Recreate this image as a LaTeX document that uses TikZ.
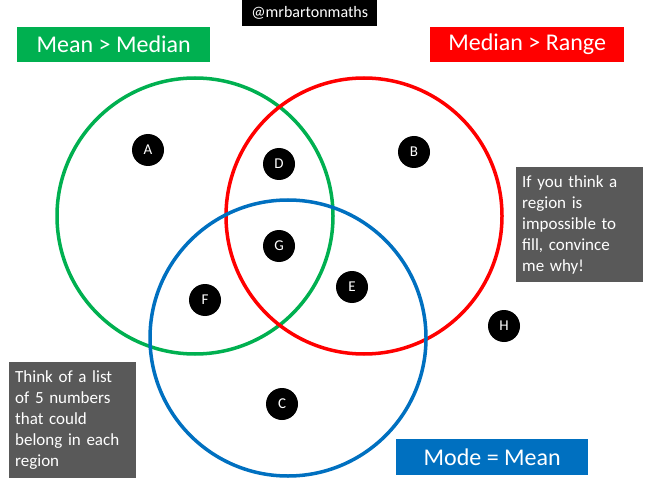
\documentclass[tikz,border=0pt]{standalone}
\usepackage{fontspec}
\setmainfont{Carlito}
\definecolor{vgreen}{HTML}{00B050}
\definecolor{vred}{HTML}{FF0000}
\definecolor{vblue}{HTML}{0070C0}
\definecolor{vgray}{HTML}{595959}
\begin{document}
\begin{tikzpicture}[x=1pt,y=-1pt,
  setcirc/.style={line width=3.5pt},
  dot/.style={circle,fill=black,minimum size=32pt,inner sep=0pt,text=white,font=\fontsize{15}{15}\selectfont},
  titlebox/.style={anchor=north west,inner sep=0pt,text=white,font=\fontsize{24}{24}\selectfont},
  notebox/.style={anchor=north west,fill=vgray,text=white,align=left,inner xsep=6pt,inner ysep=5pt,font=\fontsize{17}{21}\selectfont}
]
\useasboundingbox (0,0) rectangle (647,486);
\fill[white] (0,0) rectangle (647,486);
\draw[setcirc,vgreen] (195,216) circle (138);
\draw[setcirc,vred] (364,216) circle (138);
\draw[setcirc,vblue] (288,338) circle (138);

\node[titlebox,fill=black,minimum width=135pt,minimum height=26pt,font=\fontsize{16}{16}\selectfont] (tag) at (242,0) {@mrbartonmaths};
\node[titlebox,fill=vgreen,minimum width=193pt,minimum height=35pt] (mm) at (17,27) {Mean > Median};
\node[titlebox,fill=vred,minimum width=194pt,minimum height=35pt] (mr) at (430,27) {Median > Range};
\node[titlebox,fill=vblue,minimum width=192pt,minimum height=36pt] (mo) at (396,439) {Mode = Mean};

\node[notebox,text width=115pt,minimum height=116pt] (n1) at (9,362) {Think of a list\\of 5 numbers\\that could\\belong in each\\region};
\node[notebox,text width=115pt,minimum height=115pt] (n2) at (516,167) {If you think a\\region is\\impossible to\\fill, convince\\me why!};

\node[dot] (A) at (148,150) {A};
\node[dot] (B) at (414,152) {B};
\node[dot] (C) at (282,404) {C};
\node[dot] (D) at (279,164) {D};
\node[dot] (E) at (352,287) {E};
\node[dot] (F) at (205,300) {F};
\node[dot] (G) at (279,246) {G};
\node[dot] (H) at (504,326) {H};
\end{tikzpicture}
\end{document}
